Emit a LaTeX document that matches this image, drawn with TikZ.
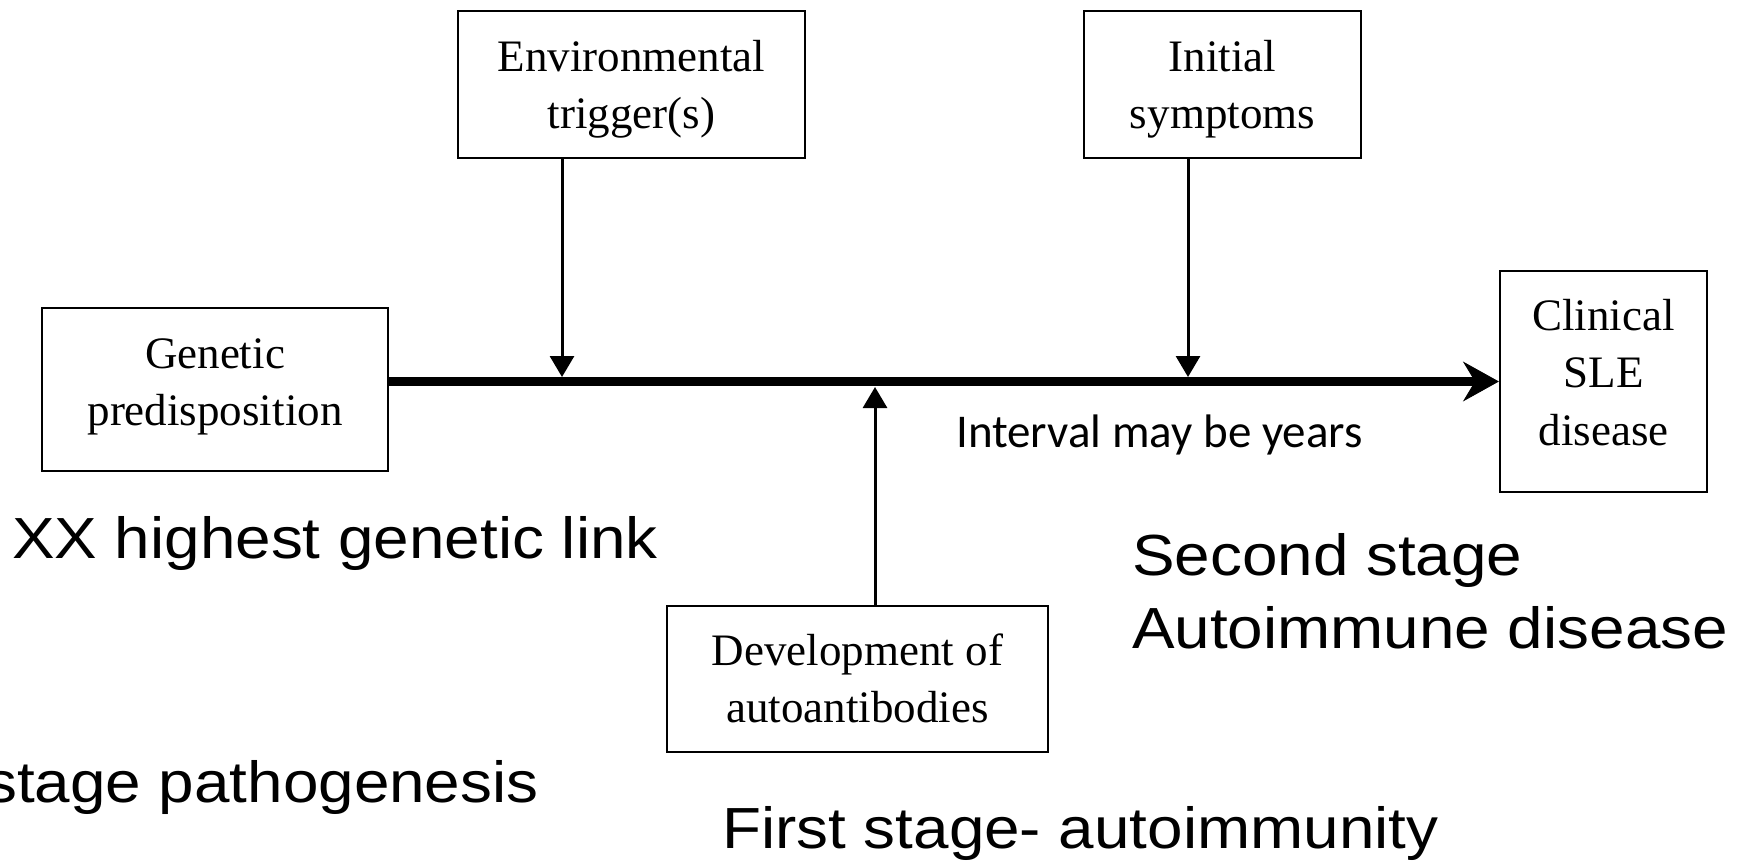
\documentclass[tikz,border=0pt]{standalone}
\usepackage{fontspec}
\setmainfont{Liberation Serif}
\newfontfamily\arialf{Liberation Sans}
\newfontfamily\calibf{Carlito}
\usetikzlibrary{arrows.meta}
\newcommand{\widetxt}[1]{\scalebox{1.1}[1]{#1}}
\begin{document}
\begin{tikzpicture}[x=1pt,y=-1pt,
  boxst/.style={draw, line width=2.2pt, rectangle, inner sep=0pt},
  boxtxt/.style={font=\fontsize{45}{57.5}\selectfont, align=center, anchor=north, inner sep=0pt},
  bigtxt/.style={font=\arialf\fontsize{58}{73}\selectfont, inner sep=0pt},
  arr/.style={line width=3pt, -{Triangle[length=21pt,width=24pt]}},
  mainline/.style={line width=9pt, -{Stealth[length=36pt,width=40pt,inset=12pt,line width=1pt]}}]
\useasboundingbox (0,0) rectangle (1750,860);

% boxes
\node[boxst, minimum width=346pt, minimum height=163pt] (gen) at (215,389.5) {};
\node[boxst, minimum width=347pt, minimum height=147pt] (env) at (631.5,84.5) {};
\node[boxst, minimum width=277pt, minimum height=147pt] (sym) at (1222.5,84.5) {};
\node[boxst, minimum width=207pt, minimum height=221pt] (clin) at (1603.5,381.5) {};
\node[boxst, minimum width=381pt, minimum height=146pt] (dev) at (857.5,679) {};

% box texts
\node[boxtxt] (gent) at (215,333) {\rule{0pt}{35pt}Genetic\\predisposition};
\node[boxtxt] (envt) at (631.5,36) {\rule{0pt}{35pt}Environmental\\trigger(s)};
\node[boxtxt] (symt) at (1222.5,36) {\rule{0pt}{35pt}Initial\\symptoms};
\node[boxtxt] (clint) at (1603.5,295) {\rule{0pt}{35pt}Clinical\\SLE\\disease};
\node[boxtxt] (devt) at (857.5,630) {\rule{0pt}{35pt}Development of\\autoantibodies};

% main timeline
\coordinate (ml) at (0,381.5);
\draw[mainline] (gen.east |- ml) -- (clin.west |- ml);

% arrows onto the timeline
\coordinate (envhit) at (562,377);
\coordinate (symhit) at (1188,377);
\coordinate (devhit) at (875,387);
\draw[arr] (env.south -| envhit) -- (envhit);
\draw[arr] (sym.south -| symhit) -- (symhit);
\draw[arr] (dev.north -| devhit) -- (devhit);

% labels
\node[font=\calibf\fontsize{47}{56}\selectfont, inner sep=0pt, anchor=base west] (interval) at (956,447) {Interval may be years};
\node[bigtxt, anchor=base west] (xx) at (12,558) {\widetxt{XX highest genetic link}};
\node[bigtxt, anchor=north west, align=left] (second) at (1132,525) {\rule{0pt}{50pt}\widetxt{Second stage}\\\widetxt{Autoimmune disease}};
\node[bigtxt, anchor=base west] (twostage) at (-15,802) {\widetxt{stage pathogenesis}};
\node[bigtxt, anchor=base west] (first) at (722,848) {\widetxt{First stage- autoimmunity}};
\end{tikzpicture}
\end{document}
